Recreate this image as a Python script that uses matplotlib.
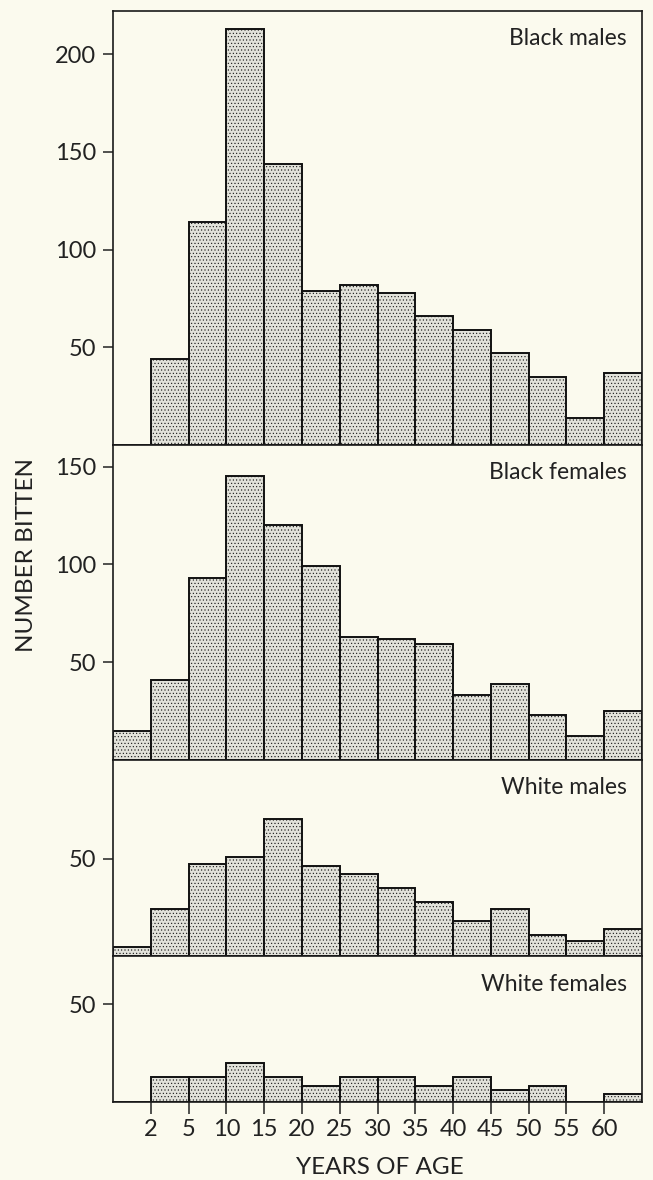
import numpy as np
import matplotlib
matplotlib.use("Agg")
import matplotlib.pyplot as plt

# Number bitten by age group, four panels
age_bins = ["0-2", "2-5", "5-10", "10-15", "15-20", "20-25", "25-30",
            "30-35", "35-40", "40-45", "45-50", "50-55", "55-60", "60+"]
age_ticks = ["2", "5", "10", "15", "20", "25", "30", "35", "40", "45", "50", "55", "60"]

black_males = [0, 44, 114, 213, 144, 79, 82, 78, 66, 59, 47, 35, 14, 37]
black_females = [15, 41, 93, 145, 120, 99, 63, 62, 59, 33, 39, 23, 12, 25]
white_males = [5, 24, 47, 51, 70, 46, 42, 35, 28, 18, 24, 11, 8, 14]
white_females = [0, 13, 13, 20, 13, 8, 13, 13, 8, 13, 6, 8, 0, 4]

panel_names = ["Black males", "Black females", "White males", "White females"]
panel_data = [black_males, black_females, white_males, white_females]
panel_ymax = [222, 161, 100.5, 74.5]
panel_yticks = [[50, 100, 150, 200], [50, 100, 150], [50], [50]]

bg = "#fbfaee"
plt.rcParams["font.family"] = ["Lato", "DejaVu Sans"]
plt.rcParams["hatch.color"] = "#b4b4ac"
plt.rcParams["hatch.linewidth"] = 0.4

fig = plt.figure(figsize=(6.53, 11.8), dpi=100, facecolor=bg)
gs = fig.add_gridspec(4, 1, height_ratios=panel_ymax, hspace=0,
                      left=113 / 653, right=642 / 653,
                      top=1 - 11 / 1180, bottom=1 - 1102 / 1180)

x = np.arange(len(age_bins)) + 0.5
for i, (name, vals) in enumerate(zip(panel_names, panel_data)):
    ax = fig.add_subplot(gs[i])
    ax.set_facecolor(bg)
    ax.bar(x, vals, width=1.0, color="#e2e2da", edgecolor="#111111",
           linewidth=1.4, hatch=".....")
    ax.set_xlim(0, len(age_bins))
    ax.set_ylim(0, panel_ymax[i])
    ax.set_yticks(panel_yticks[i])
    ax.tick_params(axis="y", direction="out", length=7, width=1.1,
                   labelsize=17, pad=5, colors="#222222")
    for s in ax.spines.values():
        s.set_linewidth(1.2)
        s.set_color("#1a1a1a")
    if i < 3:
        ax.set_xticks([])
    else:
        ax.set_xticks(np.arange(1, len(age_bins)))
        ax.set_xticklabels(age_ticks)
        ax.tick_params(axis="x", direction="out", length=8.5, width=1.1,
                       labelsize=17, pad=4, colors="#222222")
    ax.annotate(name, xy=(1, 1), xycoords="axes fraction",
                xytext=(-11, -20), textcoords="offset points",
                ha="right", va="center", fontsize=16.5, color="#222222")

fig.text(27 / 653, 1 - 555 / 1180, "NUMBER BITTEN", rotation=90,
         ha="center", va="center", fontsize=17.5, color="#222222")
fig.text(380 / 653, 1 - 1167 / 1180, "YEARS OF AGE",
         ha="center", va="center", fontsize=17.5, color="#222222")

fig.savefig("out.png", dpi=100, facecolor=bg)
